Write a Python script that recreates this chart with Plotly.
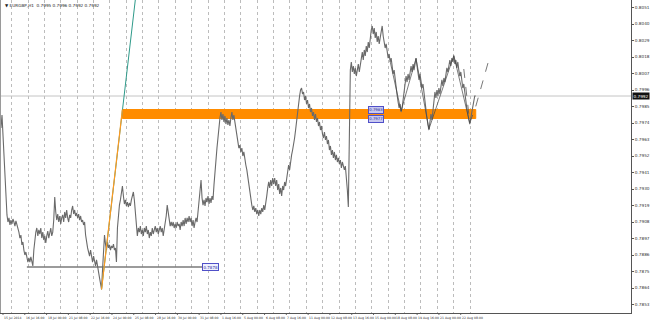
import numpy as np
import plotly.graph_objects as go

# ---------------- data ----------------
symbol_title = "\u25BC EURGBP,H1  0.7995 0.7996 0.7992 0.7992"

close = [
0.79773,0.79707,0.79793,0.79660,0.79493,0.79327,0.79227,0.79127,0.79080,0.79107,
0.79060,0.79093,0.79067,0.79100,0.79080,0.79053,0.79087,0.79067,0.79040,0.79013,
0.78973,0.78993,0.78927,0.78947,0.78893,0.78860,0.78880,0.78840,0.78813,0.78840,
0.78813,0.78847,0.78813,0.78787,0.78893,0.78960,0.79013,0.79040,0.78987,0.79027,
0.79000,0.79040,0.78973,0.79013,0.78960,0.78987,0.78940,0.78987,0.79020,0.78973,
0.79013,0.79040,0.78987,0.79013,0.79093,0.79247,0.79147,0.79093,0.79133,0.79080,
0.79120,0.79067,0.79107,0.79127,0.79080,0.79147,0.79107,0.79160,0.79107,0.79080,
0.79127,0.79107,0.79160,0.79187,0.79133,0.79160,0.79120,0.79140,0.79107,0.79133,
0.79093,0.79120,0.79080,0.79093,0.79060,0.79080,0.78993,0.78940,0.78907,0.78880,
0.78853,0.78893,0.78840,0.78813,0.78853,0.78813,0.78787,0.78827,0.78773,0.78747,
0.78707,0.78667,0.78633,0.78760,0.78907,0.78993,0.78933,0.78893,0.78947,0.78907,
0.78927,0.78893,0.78920,0.78907,0.78933,0.78893,0.78907,0.78813,0.79040,0.79127,
0.79193,0.79227,0.79280,0.79320,0.79253,0.79200,0.79227,0.79187,0.79213,0.79180,
0.79207,0.79187,0.79227,0.79253,0.79280,0.79227,0.79147,0.79067,0.78987,0.79040,
0.79013,0.79053,0.79000,0.79027,0.78987,0.79040,0.79013,0.79053,0.79000,0.79027,
0.78973,0.79013,0.78987,0.79040,0.79000,0.79027,0.79053,0.79013,0.79040,0.79000,
0.79027,0.79053,0.79013,0.79040,0.78987,0.79027,0.79067,0.79120,0.79193,0.79133,
0.79080,0.79053,0.79080,0.79053,0.79080,0.79040,0.79067,0.79040,0.79080,0.79053,
0.79067,0.79027,0.79080,0.79053,0.79093,0.79053,0.79107,0.79067,0.79107,0.79080,
0.79120,0.79080,0.79107,0.79053,0.79093,0.79040,0.79080,0.79107,0.79080,0.79147,
0.79200,0.79260,0.79360,0.79240,0.79193,0.79227,0.79187,0.79240,0.79213,0.79253,
0.79200,0.79240,0.79207,0.79253,0.79227,0.79327,0.79427,0.79527,0.79573,0.79640,
0.79727,0.79773,0.79813,0.79760,0.79800,0.79747,0.79787,0.79733,0.79773,0.79727,
0.79760,0.79720,0.79773,0.79813,0.79760,0.79793,0.79747,0.79707,0.79660,0.79627,
0.79573,0.79593,0.79547,0.79573,0.79520,0.79547,0.79493,0.79460,0.79427,0.79373,
0.79327,0.79280,0.79240,0.79193,0.79160,0.79187,0.79147,0.79173,0.79133,0.79160,
0.79120,0.79160,0.79133,0.79173,0.79147,0.79193,0.79160,0.79227,0.79253,0.79307,
0.79347,0.79307,0.79360,0.79320,0.79373,0.79333,0.79373,0.79320,0.79360,0.79293,
0.79333,0.79267,0.79307,0.79253,0.79320,0.79293,0.79347,0.79320,0.79373,0.79413,
0.79460,0.79427,0.79493,0.79527,0.79560,0.79593,0.79640,0.79693,0.79760,0.79827,
0.79880,0.79920,0.79960,0.79973,0.79933,0.79947,0.79893,0.79920,0.79867,0.79893,
0.79840,0.79867,0.79813,0.79840,0.79787,0.79813,0.79760,0.79800,0.79747,0.79773,
0.79720,0.79747,0.79693,0.79720,0.79667,0.79640,0.79680,0.79627,0.79653,0.79600,
0.79627,0.79560,0.79587,0.79527,0.79560,0.79507,0.79547,0.79493,0.79527,0.79480,
0.79507,0.79467,0.79493,0.79440,0.79480,0.79453,0.79427,0.79453,0.79393,0.79293,
0.79180,0.79560,0.80093,0.80147,0.80080,0.80120,0.80067,0.80107,0.80053,0.80093,
0.80133,0.80080,0.80120,0.80173,0.80213,0.80160,0.80227,0.80187,0.80253,0.80213,
0.80280,0.80240,0.80307,0.80360,0.80387,0.80333,0.80373,0.80307,0.80347,0.80280,
0.80320,0.80267,0.80307,0.80360,0.80387,0.80320,0.80280,0.80240,0.80267,0.80213,
0.80173,0.80200,0.80147,0.80173,0.80107,0.80067,0.80093,0.80027,0.79973,0.79927,
0.79880,0.79840,0.79867,0.79813,0.79840,0.79893,0.79947,0.80000,0.80053,0.80013,
0.80067,0.80027,0.80080,0.80120,0.80080,0.80133,0.80093,0.80147,0.80173,0.80120,
0.80080,0.80027,0.80067,0.80013,0.79973,0.80000,0.79933,0.79880,0.79827,0.79773,
0.79727,0.79693,0.79747,0.79800,0.79760,0.79840,0.79893,0.79947,0.79907,0.79960,
0.79920,0.79973,0.79933,0.79987,0.80027,0.79987,0.80040,0.80013,0.80067,0.80107,
0.80080,0.80133,0.80160,0.80120,0.80173,0.80147,0.80187,0.80133,0.80160,0.80107,
0.80147,0.80093,0.80053,0.80080,0.80027,0.79973,0.80000,0.79933,0.79893,0.79840,
0.79800,0.79760,0.79733,0.79773,0.79813,0.79853,0.79893,0.79920,0.79920,
]
bar_index = list(range(len(close)))

y_tick_labels = ["0.8051", "0.8040", "0.8029", "0.8018", "0.8007", "0.7996",
                 "0.7985", "0.7974", "0.7963", "0.7952", "0.7941", "0.7930",
                 "0.7919", "0.7908", "0.7897", "0.7886", "0.7875", "0.7864",
                 "0.7853"]

x_tick_labels = ["15 Jul 2014", "16 Jul 16:00", "18 Jul 00:00", "21 Jul 08:00",
                 "22 Jul 16:00", "24 Jul 00:00", "25 Jul 08:00", "28 Jul 16:00",
                 "30 Jul 00:00", "31 Jul 08:00", "1 Aug 16:00", "5 Aug 00:00",
                 "6 Aug 08:00", "7 Aug 16:00", "11 Aug 00:00", "12 Aug 08:00",
                 "13 Aug 16:00", "15 Aug 00:00", "18 Aug 08:00", "19 Aug 16:00",
                 "21 Aug 00:00", "22 Aug 08:00"]

last_price = 0.7992
zone_low, zone_high = 0.7977, 0.7983
zone_start, zone_end = 123, 478
support_level = 0.7878
support_start, support_end = 27, 203
fib_orange = ([102, 123], [0.7863, 0.7983])
fib_teal = ([102, 137], [0.7863, 0.8062])
zigzag_x = [392, 403, 418, 431, 456, 472]
zigzag_y = [0.8015, 0.7982, 0.8017, 0.7970, 0.8019, 0.7974]
proj_x = [466, 472, 478, 492]
proj_y = [0.8010, 0.7974, 0.7985, 0.8018]

# ---------------- figure ----------------
W, H = 650, 320
ML, MR, MT, MB = 0, 16, 0, 7
plot_w = W - ML - MR
y_top = 0.80560
y_bot = y_top - (H - MT - MB) / 15000.0

fig = go.Figure()

# orange zone
fig.add_trace(go.Scatter(
    x=[zone_start, zone_end, zone_end, zone_start, zone_start],
    y=[zone_low, zone_low, zone_high, zone_high, zone_low],
    fill="toself", fillcolor="#ff8c00", mode="lines",
    line=dict(color="#ff8c00", width=1), hoverinfo="skip", showlegend=False))

# last price line
fig.add_trace(go.Scatter(x=[0, plot_w], y=[last_price, last_price], mode="lines",
                         line=dict(color="#c4c4c4", width=1), showlegend=False))

# support line
fig.add_trace(go.Scatter(x=[support_start, support_end], y=[support_level, support_level],
                         mode="lines", line=dict(color="#7a7a7a", width=1.5), showlegend=False))

# price
fig.add_trace(go.Scatter(x=bar_index, y=close, mode="lines",
                         line=dict(color="#6a6a6a", width=1.1), showlegend=False))

# fib / trend lines
fig.add_trace(go.Scatter(x=fib_teal[0], y=fib_teal[1], mode="lines",
                         line=dict(color="#2f9a8a", width=1), showlegend=False))
fig.add_trace(go.Scatter(x=fib_orange[0], y=fib_orange[1], mode="lines",
                         line=dict(color="#ff9a20", width=1.2), showlegend=False))

# zigzag & projection
fig.add_trace(go.Scatter(x=zigzag_x, y=zigzag_y, mode="lines",
                         line=dict(color="#444444", width=0.7), showlegend=False))
fig.add_trace(go.Scatter(x=proj_x, y=proj_y, mode="lines",
                         line=dict(color="#555555", width=0.8, dash="dash"), showlegend=False))

sep_pos = list(np.arange(11.7, 476, 16.45))
lab_pos = [3 + 21.9 * i for i in range(len(x_tick_labels))]

fig.update_layout(
    width=W, height=H,
    margin=dict(l=ML, r=MR, t=MT, b=MB),
    paper_bgcolor="white", plot_bgcolor="white",
    font=dict(family="DejaVu Sans", size=4.5, color="#222222"),
    xaxis=dict(range=[0, plot_w], tickvals=sep_pos, showticklabels=False,
               showgrid=True, gridcolor="#bcbcbc", griddash="dot", gridwidth=1,
               zeroline=False, showline=True, linecolor="#555555", linewidth=1,
               ticks=""),
    yaxis=dict(range=[y_bot, y_top], side="right",
               tickvals=[float(v) for v in y_tick_labels], ticktext=y_tick_labels,
               showgrid=False, zeroline=False, showline=True, linecolor="#555555",
               linewidth=1, ticks="outside", ticklen=2, tickcolor="#555555",
               tickfont=dict(size=4.2, color="#333333")),
)

# left border
fig.add_shape(type="line", xref="paper", yref="paper", x0=0, x1=0, y0=0, y1=1,
              line=dict(color="#9a9a9a", width=2))

# x labels
for p, t in zip(lab_pos, x_tick_labels):
    fig.add_annotation(x=p, y=0, xref="x", yref="paper", text=t, showarrow=False,
                       xanchor="left", yanchor="top", yshift=-1, xshift=-1,
                       font=dict(size=3.1, color="#333333"))
    fig.add_shape(type="line", xref="x", yref="paper", x0=p, x1=p, y0=0, y1=-0.006,
                  line=dict(color="#555555", width=1))

# title
fig.add_annotation(x=0.004, y=1, xref="paper", yref="paper", text=symbol_title,
                   showarrow=False, xanchor="left", yanchor="top", yshift=-1,
                   font=dict(size=4.2, color="#222222"))

# last price box
fig.add_annotation(x=1, y=last_price, xref="paper", yref="y", text="0.7992",
                   showarrow=False, xanchor="left", yanchor="middle", xshift=1,
                   bgcolor="#111111", font=dict(size=4.2, color="white"), borderpad=0.5)

# object labels
fig.add_annotation(x=support_end, y=support_level, xref="x", yref="y",
                   text="0.7878", showarrow=False, xanchor="left", yanchor="middle",
                   bgcolor="#eef0ff", bordercolor="#5050c8", borderwidth=1, borderpad=0.5,
                   font=dict(size=4.0, color="#3030a0"))
fig.add_annotation(x=370, y=zone_high, xref="x", yref="y",
                   text="0.7983", showarrow=False, xanchor="left", yanchor="middle",
                   bgcolor="#c8c8f0", bordercolor="#5050c8", borderwidth=1, borderpad=0.3,
                   font=dict(size=3.8, color="#2a2a90"))
fig.add_annotation(x=370, y=zone_low, xref="x", yref="y",
                   text="0.7977", showarrow=False, xanchor="left", yanchor="middle",
                   bgcolor="#c8c8f0", bordercolor="#5050c8", borderwidth=1, borderpad=0.3,
                   font=dict(size=3.8, color="#2a2a90"))

fig.write_html("out.html")
